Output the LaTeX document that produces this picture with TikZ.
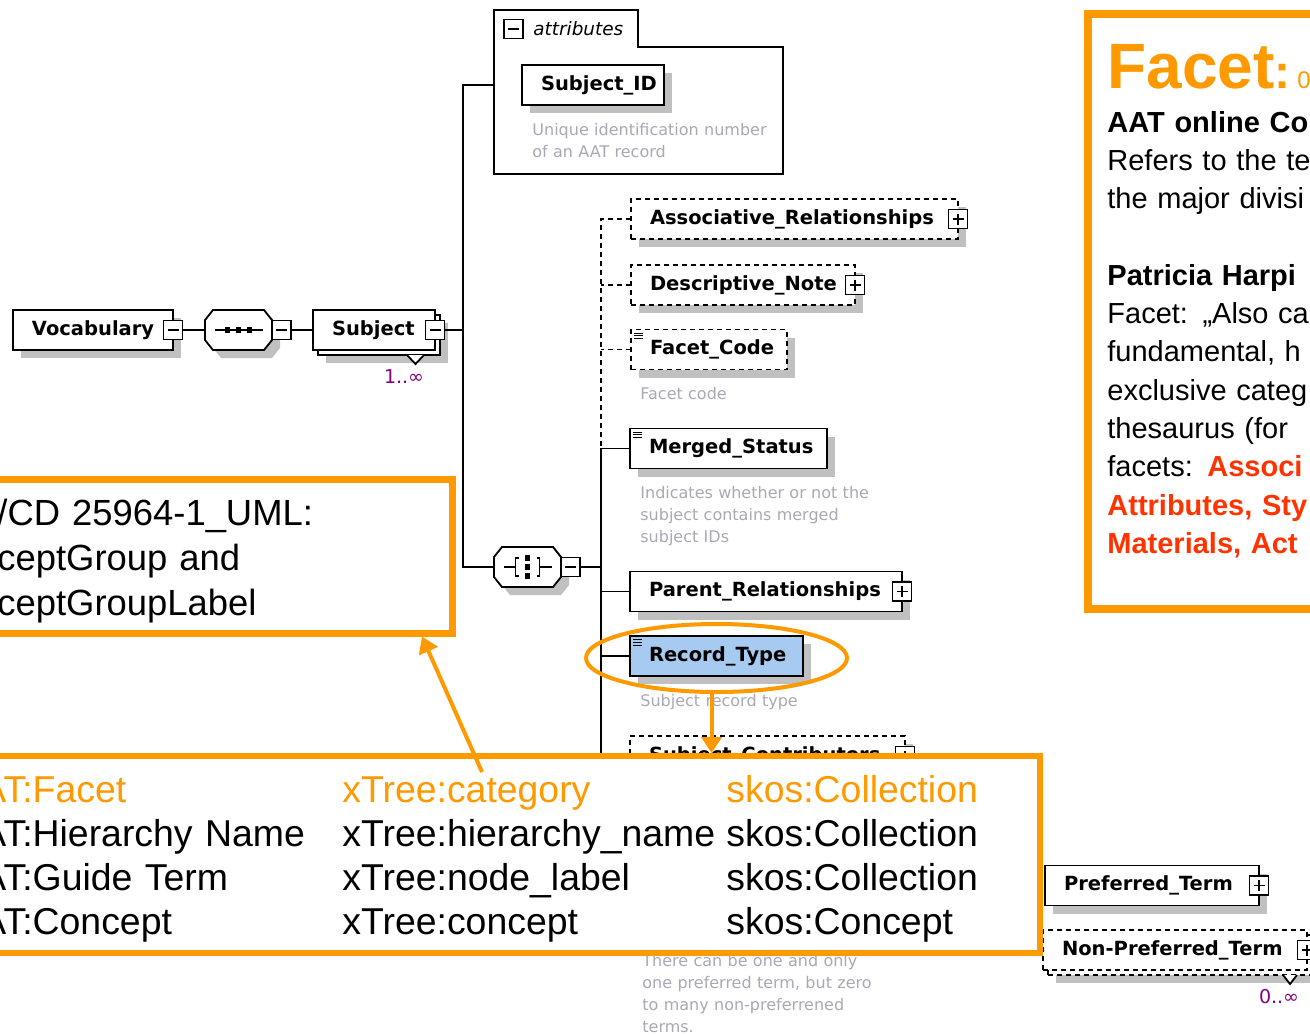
\documentclass[tikz,border=0pt]{standalone}
\usepackage{fontspec}
\setmainfont{Liberation Sans}
\newfontfamily\xsfont{DejaVu Sans}[BoldFont={DejaVu Sans Bold},ItalicFont={DejaVu Sans Oblique}]
\usetikzlibrary{shapes.geometric,shadows,arrows.meta}
\definecolor{slideorange}{RGB}{255,153,0}
\definecolor{slidered}{RGB}{255,51,0}
\definecolor{shadowgray}{RGB}{192,192,192}
\definecolor{docgray}{RGB}{168,168,182}
\definecolor{multpurple}{RGB}{128,0,128}
\definecolor{selblue}{RGB}{166,202,240}
\newcommand\elemfont{\xsfont\bfseries\fontsize{9.75}{11}\selectfont}
\newcommand\docfont{\xsfont\fontsize{8}{11}\selectfont}
\newcommand\docicon[1]{\foreach \k in {0,1,2}
  \draw[line width=0.55pt] ([xshift=1.5pt,yshift={-1.8pt-1.4pt*\k}]#1.north west) -- ++(4.5pt,0);}
\newcommand\octpath{(-25.5,-20) -- (25.5,-20) -- (33.5,-10) -- (33.5,10) -- (25.5,20)
  -- (-25.5,20) -- (-33.5,10) -- (-33.5,-10) -- cycle}
\tikzset{
  treeline/.style={line width=0.9pt},
  optline/.style={treeline,dash pattern=on 2.5pt off 2pt},
  xshadow/.style={drop shadow={shadow xshift=4pt,shadow yshift=-4pt,fill=shadowgray,opacity=1}},
  elembox/.style={draw,treeline,fill=white,anchor=west,outer sep=0pt,font=\elemfont,
    text width=#1,align=left,inner xsep=9.5pt,inner ysep=0pt,minimum height=20pt,
    text height=7.1pt,text depth=2pt},
  elem/.style={elembox=#1,xshadow},
  optbox/.style={elembox=#1,dash pattern=on 2.5pt off 2pt},
  optelem/.style={optbox=#1,xshadow},
  pm/.style={draw,treeline,fill=white,minimum size=9.5pt,inner sep=0pt,outer sep=0pt},
  minusbox/.style={pm,path picture={\draw[line width=0.8pt]
    ([xshift=2pt]path picture bounding box.west) -- ([xshift=-2pt]path picture bounding box.east);}},
  plusbox/.style={pm,path picture={\draw[line width=0.8pt]
    ([xshift=2pt]path picture bounding box.west) -- ([xshift=-2pt]path picture bounding box.east)
    ([yshift=-2pt]path picture bounding box.north) -- ([yshift=2pt]path picture bounding box.south);}},
  comp/.style={minimum width=33.5pt,minimum height=20pt,inner sep=0pt,outer sep=0pt},
  mult/.style={inner sep=0pt,text=multpurple,font=\xsfont\fontsize{9.5}{10}\selectfont},
  doc/.style={anchor=base west,inner sep=0pt,font=\docfont,text=docgray,text width=150pt,align=left},
  slidebox/.style={draw=slideorange,fill=white,inner sep=0pt},
  slidetext/.style={anchor=base west,inner sep=0pt,text width=#1,align=left},
  slidearrow/.style={draw=slideorange,line width=2pt,-{Triangle[length=8pt,width=10pt]}}
}
\begin{document}
\begin{tikzpicture}[x=0.5pt,y=-0.5pt,line join=miter]
\useasboundingbox (0,0) rectangle (1310,1034);
\clip (0,0) rectangle (1310,1034);

\node[elem=61pt] (voc) at (13,330) {Vocabulary};
\node[minusbox] (voc-m) at (voc.east) {};
\begin{scope}[shift={(238.5,330)}]
  \fill[shadowgray,shift={(8,8)}] \octpath;
  \draw[treeline,fill=white] \octpath;
  \node[comp] (seq) at (0,0) {};
\end{scope}
\draw[treeline] ([xshift=-12pt]seq.center) -- ([xshift=12pt]seq.center);
\foreach \d in {-5.5,0,5.5}
  \fill ([xshift=\d pt]seq.center) +(-1.3pt,-1.3pt) rectangle +(1.3pt,1.3pt);
\node[minusbox,anchor=west] (seq-m) at (seq.east) {};
\node[elem=42pt] (subj-back) at (318,335) {};
\draw[treeline,fill=white] ([xshift=-16.5pt]subj-back.south east) -- ++(4.25pt,-4.5pt)
  -- ([xshift=-8pt]subj-back.south east);
\node[elembox=42pt] (subj) at (313,330) {Subject};
\node[minusbox] (subj-m) at (subj.east) {};
\node[mult] (subj-mult) at (404,377) {1..∞};
\draw[treeline] (voc-m) -- (seq);
\draw[treeline] (seq-m) -- (subj);

\draw[treeline,fill=white] (494,10) -- (638,10) -- (638,47) -- (783,47) -- (783,174)
  -- (494,174) -- cycle;
\node[minusbox] (attr-m) at (513.5,29) {};
\node[anchor=west,inner sep=0pt,font=\xsfont\itshape\fontsize{9.2}{11}\selectfont]
  (attr-lbl) at (533,29) {attributes};
\node[elem=52pt] (sid) at (522,85) {Subject\_ID};
\node[doc] (sid-doc) at (532,135.5) {Unique identification number\\of an AAT record};

\begin{scope}[shift={(527.5,567)}]
  \fill[shadowgray,shift={(8,8)}] \octpath;
  \draw[treeline,fill=white] \octpath;
  \node[comp] (all) at (0,0) {};
\end{scope}
\draw[treeline] ([xshift=-12pt]all.center) -- ([xshift=-6pt]all.center)
  ([xshift=6pt]all.center) -- ([xshift=12pt]all.center);
\foreach \s in {-1,1}
  \draw[treeline] ([shift={(\s*4.5pt,-4.5pt)}]all.center) -- ([shift={(\s*6pt,-4.5pt)}]all.center)
    -- ([shift={(\s*6pt,4.5pt)}]all.center) -- ([shift={(\s*4.5pt,4.5pt)}]all.center);
\foreach \d in {-4.5,0,4.5}
  \fill ([yshift=\d pt]all.center) +(-1.3pt,-1.3pt) rectangle +(1.3pt,1.3pt);
\node[minusbox,anchor=west] (all-m) at (all.east) {};

\coordinate (attr-in) at (494,85);
\coordinate (fork) at (463,330);
\draw[treeline] (subj-m) -- (fork);
\draw[treeline] (attr-in) -| (fork) |- (all.west);

\node[optelem=144.5pt] (assoc) at (631,219) {Associative\_Relationships};
\node[plusbox] (assoc-p) at (assoc.east) {};
\node[optelem=93pt] (desc) at (631,285) {Descriptive\_Note};
\node[plusbox] (desc-p) at (desc.east) {};
\node[optelem=59pt] (fcode) at (631,349.5) {Facet\_Code};
\docicon{fcode}
\node[doc] (fcode-doc) at (640,399.5) {Facet code};
\node[elem=79.5pt] (merged) at (630,448.5) {Merged\_Status};
\docicon{merged}
\node[doc] (merged-doc) at (640,498.5) {Indicates whether or not the\\subject contains merged\\subject IDs};
\node[elem=117pt] (parent) at (630,591.5) {Parent\_Relationships};
\node[plusbox] (parent-p) at (parent.east) {};
\node[elem=67.5pt,fill=selblue] (rtype) at (630,656) {Record\_Type};
\docicon{rtype}
\node[doc] (rtype-doc) at (640,706.5) {Subject record type};
\node[optelem=118.5pt] (contrib) at (630,756) {Subject\_Contributors};
\node[plusbox] (contrib-p) at (contrib.east) {};
\node[doc] (terms-doc) at (642,966) {There can be one and only\\one preferred term, but zero\\to many non-preferrened\\terms.};

\node[elem=88pt] (pterm) at (1045,885.5) {Preferred\_Term};
\node[plusbox] (pterm-p) at (pterm.east) {};
\node[optelem=113pt] (npterm-back) at (1048,955) {};
\draw[treeline,fill=white] ([xshift=-14.5pt]npterm-back.south east) -- ++(3.5pt,-4.5pt)
  -- ([xshift=-7.5pt]npterm-back.south east);
\node[optbox=113pt] (npterm) at (1043,950) {Non-Preferred\_Term};
\node[plusbox] (npterm-p) at (npterm.east) {};
\node[mult] (npterm-mult) at (1279,997) {0..∞};

\coordinate (seqx) at (601,567);
\coordinate (trunk-end) at (601,930);
\draw[treeline] (all-m) -- (seqx);
\draw[optline] (assoc.west) -| (seqx |- merged.west);
\draw[optline] (desc.west) -- (desc.west -| seqx);
\draw[optline] (fcode.west) -- (fcode.west -| seqx);
\draw[treeline] (merged.west) -| (trunk-end);
\draw[treeline] (parent.west) -- (parent.west -| seqx);
\draw[treeline] (rtype.west) -- (rtype.west -| seqx);
\draw[optline] (contrib.west) -- (contrib.west -| seqx);

\node[slidebox,line width=3.5pt,minimum width=231pt,minimum height=77pt] (umlbox) at (221,556) {};
\node[slidetext=300pt,font=\fontsize{18.2}{22.5}\selectfont] (uml-txt) at (-3,525)
  {/CD 25964-1\_UML:\\ceptGroup and\\ceptGroupLabel};

\node[slidebox,line width=3pt,minimum width=525pt,minimum height=98.5pt] (mapbox) at (515,854.5) {};
\node[slidetext=190pt,font=\fontsize{18.7}{22.15}\selectfont] (map-aat) at (-19,802)
  {{\color{slideorange}AT:Facet}\\AT:Hierarchy Name\\AT:Guide Term\\AT:Concept};
\node[slidetext=190pt,font=\fontsize{18.7}{22.15}\selectfont] (map-xtree) at (342,802)
  {{\color{slideorange}xTree:category}\\xTree:hierarchy\_name\\xTree:node\_label\\xTree:concept};
\node[slidetext=190pt,font=\fontsize{18.7}{22.15}\selectfont] (map-skos) at (726,802)
  {{\color{slideorange}skos:Collection}\\skos:Collection\\skos:Collection\\skos:Concept};

\node[slidebox,line width=4pt,minimum width=131.25pt,minimum height=297.5pt] (facetbox) at (1218.75,311.5) {};
\node[slidetext=200pt,text=slideorange] (facet-title) at (1107,88)
  {{\bfseries\fontsize{32}{36}\selectfont Facet}{\bfseries\fontsize{24}{28}\selectfont :}{\fontsize{12}{14}\selectfont\ 0}};
\node[slidetext=200pt,font=\fontsize{14.5}{19.15}\selectfont] (facet-txt) at (1107,132)
  {\textbf{AAT online Co}\\Refers to the te\\the major divisi\\[19.15pt]
   \textbf{Patricia Harpi}\\Facet: „Also cal\\fundamental, h\\exclusive categ\\thesaurus (for\\
   facets: \textbf{\color{slidered}Associ}\\\textbf{\color{slidered}Attributes, Sty}\\
   \textbf{\color{slidered}Materials, Act}};

\node[draw=slideorange,line width=2pt,ellipse,minimum width=130.5pt,minimum height=34pt,
  inner sep=0pt] (rt-ring) at (716.5,658) {};
\coordinate (rt-tail) at ([xshift=-2.5pt]rt-ring.south);
\draw[slidearrow] (rt-tail) -- (rt-tail |- mapbox.north);
\coordinate (gl-tail) at (482,772);
\draw[slidearrow] (gl-tail) -- (422,0 |- umlbox.south);
\end{tikzpicture}
\end{document}
